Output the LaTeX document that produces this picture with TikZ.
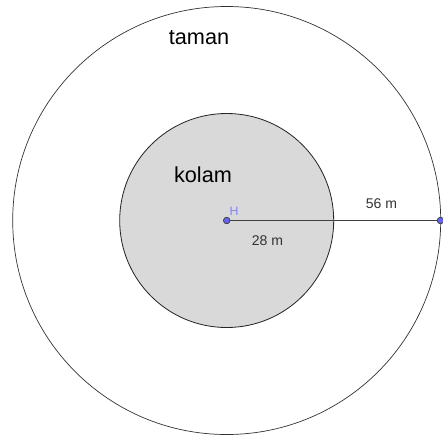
\documentclass[tikz,border=0pt]{standalone}
\usepackage{fontspec}
\setmainfont{Liberation Sans}
\usepackage{tikz}
\definecolor{ptblue}{RGB}{100,100,240}
\definecolor{pool}{RGB}{217,217,217}
\definecolor{ink}{RGB}{51,51,51}
\tikzset{
  dot/.style={circle,fill=ptblue,draw=black!75,line width=0.5pt,inner sep=0pt,minimum size=5.5pt},
  bigtxt/.style={font=\fontsize{18.5}{20}\selectfont,text=black},
  dimtxt/.style={font=\fontsize{12}{14}\selectfont,text=ink}
}

\begin{document}
\begin{tikzpicture}[x=0.03cm,y=-0.03cm]
  \useasboundingbox (0,0) rectangle (443,434);
  \draw[black!80,line width=0.6pt] (226.7,220.5) circle (6.42cm);
  \filldraw[fill=pool,draw=black!85,line width=0.7pt] (226.7,220.5) circle (3.21cm);
  \node[dot] (H) at (226.7,220.5) {};
  \node[dot] (P) at (440.5,220.5) {};
  \draw[black!75,line width=0.8pt] (H.center) -- (P.center);
  \node[dot] at (H) {};
  \node[dot] at (P) {};
  \node[font=\fontsize{10.5}{12}\selectfont,text=ptblue!80,inner sep=0pt] (Hlab) at (234,211) {H};
  \node[bigtxt] (taman) at (199,38) {taman};
  \node[bigtxt] (kolam) at (203,175) {kolam};
  \node[dimtxt] (outer) at (381.5,203.5) {56 m};
  \node[dimtxt] (inner) at (267.5,241) {28 m};
\end{tikzpicture}
\end{document}
